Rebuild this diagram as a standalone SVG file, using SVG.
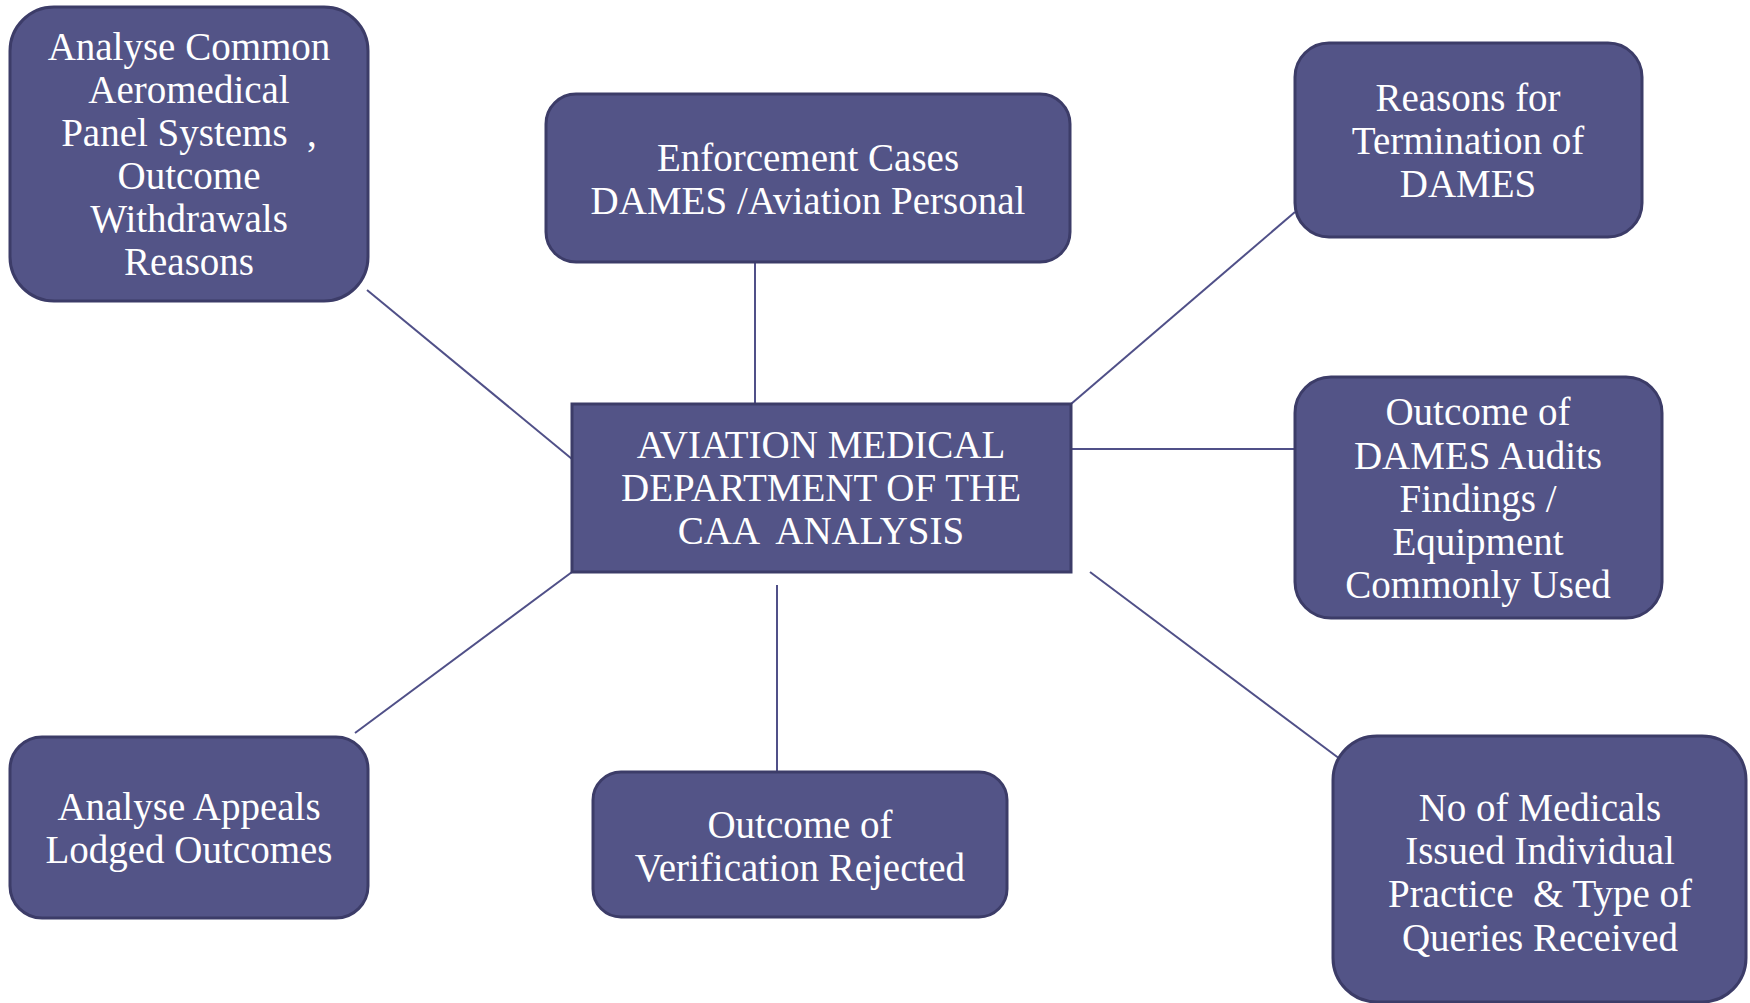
<svg xmlns="http://www.w3.org/2000/svg" width="1750" height="1003" viewBox="0 0 1750 1003">
<style>
.box{fill:#535487;stroke:#3c3c68;stroke-width:3}
.t{font-family:"Liberation Serif","Times New Roman",serif;font-size:39px;fill:#ffffff;text-anchor:middle}
.c{stroke:#505088;stroke-width:2;fill:none}
</style>
<rect width="1750" height="1003" fill="#ffffff"/>
<g id="connectors">
<line class="c" x1="367" y1="290" x2="572" y2="459"/>
<line class="c" x1="755" y1="262" x2="755" y2="404"/>
<line class="c" x1="1071" y1="404" x2="1295" y2="212"/>
<line class="c" x1="1071" y1="449" x2="1295" y2="449"/>
<line class="c" x1="1090" y1="572" x2="1340" y2="759"/>
<line class="c" x1="777" y1="585" x2="777" y2="772"/>
<line class="c" x1="572" y1="572" x2="355" y2="733"/>
</g>
<g id="center">
<rect class="box" x="572" y="404" width="499" height="168"/>
<text class="t" x="821" y="458">AVIATION MEDICAL</text>
<text class="t" x="821" y="501">DEPARTMENT OF THE</text>
<text class="t" x="821" y="544" xml:space="preserve">CAA  ANALYSIS</text>
</g>
<g id="n-aeromedical">
<rect class="box" x="10" y="7" width="358" height="294" rx="44"/>
<text class="t" x="189" y="60">Analyse Common</text>
<text class="t" x="189" y="103">Aeromedical</text>
<text class="t" x="189" y="146" xml:space="preserve">Panel Systems  ,</text>
<text class="t" x="189" y="189">Outcome</text>
<text class="t" x="189" y="232">Withdrawals</text>
<text class="t" x="189" y="275">Reasons</text>
</g>
<g id="n-enforcement">
<rect class="box" x="546" y="94" width="524" height="168" rx="30"/>
<text class="t" x="808" y="171">Enforcement Cases</text>
<text class="t" x="808" y="214">DAMES /Aviation Personal</text>
</g>
<g id="n-termination">
<rect class="box" x="1295" y="43" width="347" height="194" rx="34"/>
<text class="t" x="1468" y="111">Reasons for</text>
<text class="t" x="1468" y="154">Termination of</text>
<text class="t" x="1468" y="197">DAMES</text>
</g>
<g id="n-audits">
<rect class="box" x="1295" y="377" width="367" height="241" rx="36"/>
<text class="t" x="1478" y="425">Outcome of</text>
<text class="t" x="1478" y="469">DAMES Audits</text>
<text class="t" x="1478" y="512">Findings /</text>
<text class="t" x="1478" y="555">Equipment</text>
<text class="t" x="1478" y="598">Commonly Used</text>
</g>
<g id="n-medicals">
<rect class="box" x="1333" y="736" width="413" height="266" rx="44"/>
<text class="t" x="1540" y="821">No of Medicals</text>
<text class="t" x="1540" y="864">Issued Individual</text>
<text class="t" x="1540" y="907" xml:space="preserve">Practice  &amp; Type of</text>
<text class="t" x="1540" y="951">Queries Received</text>
</g>
<g id="n-verification">
<rect class="box" x="593" y="772" width="414" height="145" rx="28"/>
<text class="t" x="800" y="838">Outcome of</text>
<text class="t" x="800" y="881">Verification Rejected</text>
</g>
<g id="n-appeals">
<rect class="box" x="10" y="737" width="358" height="181" rx="32"/>
<text class="t" x="189" y="820">Analyse Appeals</text>
<text class="t" x="189" y="863">Lodged Outcomes</text>
</g>
</svg>
